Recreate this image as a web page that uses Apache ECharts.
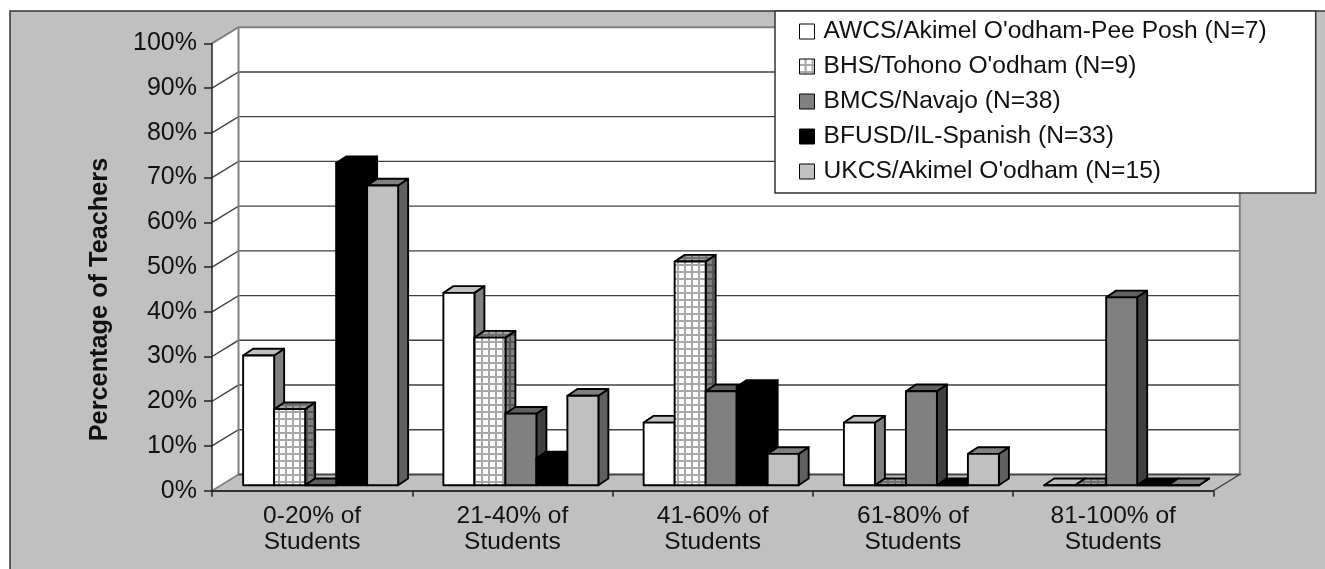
<!DOCTYPE html>
<html><head><meta charset="utf-8">
<style>html,body{margin:0;padding:0;background:#fff}#c{width:1325px;height:569px}</style>
<script src="https://cdn.jsdelivr.net/npm/echarts@6/dist/echarts.min.js"></script>
</head><body><div id="c"></div>
<script>
const categories = ['0-20% of\nStudents','21-40% of\nStudents','41-60% of\nStudents','61-80% of\nStudents','81-100% of\nStudents'];
const awcs = [29,43,14,14,0];
const bhs = [17,33,50,0,0];
const bmcs = [0,16,21,21,42];
const bfusd = [72,6,22,0,0];
const ukcs = [67,20,7,7,0];
const seriesNames = ["AWCS/Akimel O'odham-Pee Posh (N=7)","BHS/Tohono O'odham (N=9)","BMCS/Navajo (N=38)","BFUSD/IL-Spanish (N=33)","UKCS/Akimel O'odham (N=15)"];
const seriesValues = [awcs,bhs,bmcs,bfusd,ukcs];
const ticks = [0,10,20,30,40,50,60,70,80,90,100];

function hatch(bg,line,p,w){
  const c=document.createElement('canvas');c.width=p;c.height=p;
  const g=c.getContext('2d');g.fillStyle=bg;g.fillRect(0,0,p,p);
  g.fillStyle=line;g.fillRect(0,p-w,p,w);g.fillRect(p-w,0,w,p);
  return {image:c,repeat:'repeat'};
}
const faces=[
 {front:'#ffffff',top:'#c0c0c0',side:'#808080'},
 {front:hatch('#ffffff','#a8a8a8',7,2),top:hatch('#a0a0a0','#707070',7,2),side:hatch('#808080','#555555',7,2)},
 {front:'#808080',top:'#606060',side:'#404040'},
 {front:'#000000',top:'#000000',side:'#000000'},
 {front:'#c0c0c0',top:'#808080',side:'#606060'}
];
const DX=26.5, DY=-16.2, BW=31, BDX=10, BDY=-6.7, START=-69, FLOOR=-5.5;

function wallItem(params,api){
  const lo=api.coord([0,0]), hi=api.coord([0,100]);
  const L=lo[0]-api.size([1,0])[0]/2, R=L+api.size([1,0])[0]*5, B=lo[1], T=hi[1];
  const kids=[];
  const poly=(pts,style)=>({type:'polygon',shape:{points:pts},style});
  kids.push(poly([[L,B],[R,B],[R+DX,B+DY],[L+DX,B+DY]],{fill:'#c0c0c0',stroke:'#808080',lineWidth:1}));
  kids.push(poly([[L,B],[L+DX,B+DY],[L+DX,T+DY],[L,T]],{fill:'#fff',stroke:'none'}));
  kids.push(poly([[L+DX,B+DY],[R+DX,B+DY],[R+DX,T+DY],[L+DX,T+DY]],{fill:'#fff',stroke:'none'}));
  ticks.forEach(t=>{
    const y=api.coord([0,t])[1];
    if(t>0&&t<100){
      kids.push({type:'polyline',shape:{points:[[L,y],[L+DX,y+DY],[R+DX,y+DY]]},style:{fill:'none',stroke:'#404040',lineWidth:1.4}});
    }
  });
  kids.push({type:'polyline',shape:{points:[[L,T],[L+DX,T+DY],[R+DX,T+DY],[R+DX,B+DY],[L+DX,B+DY],[L+DX,T+DY]]},style:{fill:'none',stroke:'#808080',lineWidth:2}});
  kids.push({type:'polyline',shape:{points:[[L,B],[L+DX,B+DY]]},style:{fill:'none',stroke:'#808080',lineWidth:1.6}});
  kids.push({type:'polyline',shape:{points:[[L+DX,B+DY],[R+DX,B+DY],[R,B]]},style:{fill:'none',stroke:'#404040',lineWidth:1.3}});
  return {type:'group',children:kids};
}
function barItem(s){
  return function(params,api){
    const idx=api.value(0), v=api.value(1);
    const x=api.coord([idx,0])[0]+START+s*BW;
    const b=api.coord([idx,0])[1]+FLOOR;
    const t=api.coord([idx,v])[1]+FLOOR;
    const f=faces[s], st={stroke:'#000',lineWidth:1.9,lineJoin:'round'};
    const poly=(pts,fill)=>({type:'polygon',shape:{points:pts},style:Object.assign({fill},st)});
    return {type:'group',children:[
      poly([[x+BW,b],[x+BW+BDX,b+BDY],[x+BW+BDX,t+BDY],[x+BW,t]],f.side),
      poly([[x,t],[x+BDX,t+BDY],[x+BW+BDX,t+BDY],[x+BW,t]],f.top),
      poly([[x,b],[x+BW,b],[x+BW,t],[x,t]],f.front)
    ]};
  };
}
const chart=echarts.init(document.getElementById('c'),null,{renderer:'canvas'});
const fontFamily='"Liberation Sans",Arial,sans-serif';
const series=[{
  type:'custom',name:'walls',silent:true,z:1,coordinateSystem:'cartesian2d',
  renderItem:wallItem,data:[[0,0]],encode:{x:0,y:1},clip:false
}];
seriesValues.forEach((vals,s)=>{
  series.push({type:'custom',name:seriesNames[s],z:2+s,coordinateSystem:'cartesian2d',clip:false,
    renderItem:barItem(s),encode:{x:0,y:1},
    itemStyle:{color:typeof faces[s].front==='string'?faces[s].front:'#c8c8c8',borderColor:'#000'},
    data:vals.map((v,i)=>[i,v])});
});
chart.setOption({
  animation:false,
  backgroundColor:'#fff',
  graphic:[
    {type:'rect',z:-10,shape:{x:10,y:11,width:1340,height:580},style:{fill:'#c0c0c0',stroke:'#333',lineWidth:1.5}},
    {type:'text',z:20,x:100,y:299.5,rotation:Math.PI/2,
     style:{text:'Percentage of Teachers',fill:'#111',font:'bold 25.3px "Liberation Sans",Arial,sans-serif',align:'center',verticalAlign:'middle'}}
  ],
  grid:{left:212,top:43.4,width:1001.3,height:447.3,containLabel:false,z:0},
  xAxis:{type:'category',data:categories,z:8,
    axisLine:{lineStyle:{color:'#333',width:2.2}},
    axisTick:{show:true,length:6,alignWithLabel:false,lineStyle:{color:'#222',width:1.5}},
    axisLabel:{color:'#111',fontFamily,fontSize:24.5,lineHeight:26,margin:13,interval:0}},
  yAxis:{type:'value',min:0,max:100,interval:10,z:8,
    axisLine:{show:true,lineStyle:{color:'#222',width:1.5}},
    axisTick:{show:true,length:8,lineStyle:{color:'#222',width:1.5}},
    axisLabel:{color:'#111',fontFamily,fontSize:25,margin:15,formatter:'{value}%'},
    splitLine:{show:false}},
  legend:{orient:'vertical',left:775,top:11,itemWidth:15,itemHeight:15,itemGap:8,padding:[7,49,8,24],
    backgroundColor:'#fff',borderColor:'#333',borderWidth:1.5,
    textStyle:{color:'#111',fontFamily,fontSize:24.6,lineHeight:27,padding:[0,0,0,4]},
    icon:'rect',
    data:seriesNames.map((n,s)=>({name:n,itemStyle:{color:faces[s].front,borderColor:'#000',borderWidth:1}}))},
  series
});
</script></body></html>
